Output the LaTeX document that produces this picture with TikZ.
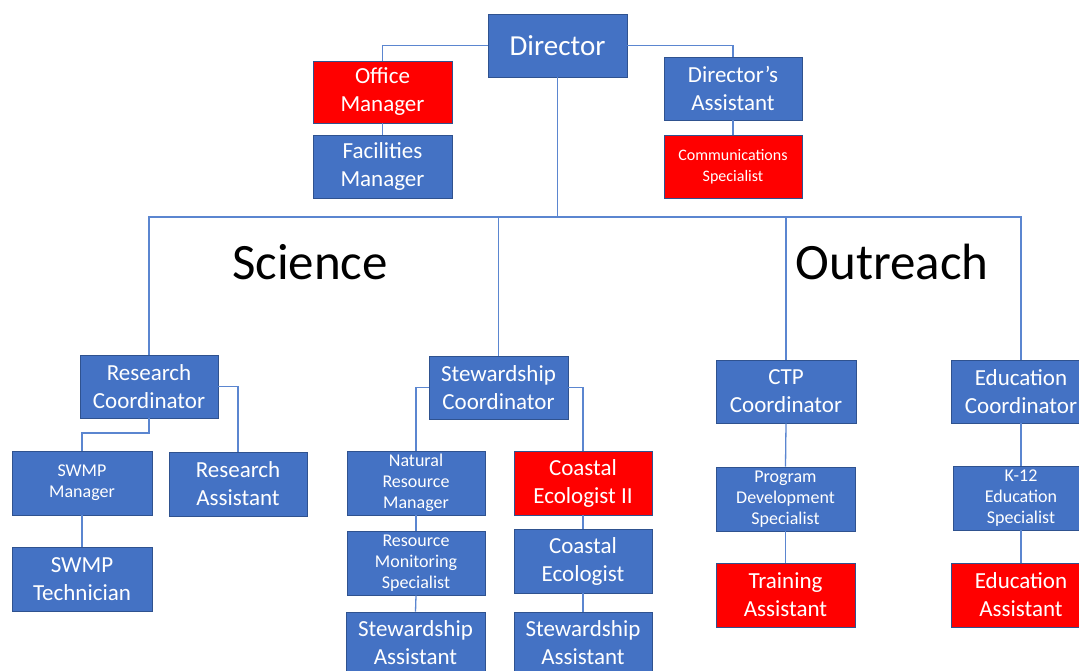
\documentclass[tikz,border=0pt]{standalone}
\usepackage{fontspec}
\setmainfont{Carlito}
\definecolor{bfill}{HTML}{4472C4}
\definecolor{bdraw}{HTML}{2F528F}
\definecolor{rfill}{HTML}{FF0000}
\definecolor{lcol}{HTML}{5B86D0}
\tikzset{
  bx/.style n args={2}{minimum width=#1, minimum height=#2, inner sep=0pt, align=center, text=white, draw=bdraw, line width=0.9pt},
  bl/.style={fill=bfill},
  rd/.style={fill=rfill},
  fbig/.style={font=\fontsize{29}{32}\selectfont},
  fmed/.style={font=\fontsize{23}{28}\selectfont},
  fsm/.style={font=\fontsize{18}{21}\selectfont},
  fxs/.style={font=\fontsize{16}{21}\selectfont},
  conn/.style={draw=lcol, line width=1.3pt},
  head/.style={font=\fontsize{51}{55}\selectfont, text=black, inner sep=0pt}
}
\begin{document}
\begin{tikzpicture}[x=1pt,y=-1pt]
\clip (0,0) rectangle (1079,671);
\fill[white] (0,0) rectangle (1079,671);
% top
\node[bx={139}{63}, bl, fbig] (dir) at (557.5,45.5) {Director};
\node[bx={139}{62}, rd, fmed] (om) at (382.5,92) {Office\\Manager};
\node[bx={139}{63}, bl, fmed] (fm) at (382.5,166.5) {Facilities\\Manager};
\node[bx={138}{63}, bl, fmed] (da) at (733,88.5) {Director’s\\Assistant};
\node[bx={138}{63}, rd, fxs] (cs) at (733,166.5) {Communications\\Specialist};
% headings
\node[head] (sci) at (310,262) {Science};
\node[head] (out) at (892,262) {Outreach};
% science
\node[bx={138}{63}, bl, fmed] (rc) at (149,386.5) {Research\\Coordinator};
\node[bx={140}{64}, bl, fsm] (swm) at (82,483) {SWMP\\Manager};
\node[bx={138}{64}, bl, fmed] (ra) at (238,484) {Research\\Assistant};
\node[bx={140}{64}, bl, fmed] (swt) at (82,579) {SWMP\\Technician};
\node[bx={139}{63}, bl, fmed] (sc) at (498.5,387.5) {Stewardship\\Coordinator};
\node[bx={138}{64}, bl, fsm] (nrm) at (416,483) {Natural\\Resource\\Manager};
\node[bx={138}{64}, bl, fsm] (rms) at (416,563) {Resource\\Monitoring\\Specialist};
\node[bx={139}{62}, bl, fmed] (sa1) at (415.5,643) {Stewardship\\Assistant};
\node[bx={138}{64}, rd, fmed] (ce2) at (583,483) {Coastal\\Ecologist II};
\node[bx={138}{64}, bl, fmed] (ce) at (583,561) {Coastal\\Ecologist};
\node[bx={138}{62}, bl, fmed] (sa2) at (583,643) {Stewardship\\Assistant};
% outreach
\node[bx={140}{63}, bl, fmed] (ctp) at (786,391.5) {CTP\\Coordinator};
\node[bx={139}{64}, bl, fsm] (pds) at (785.5,499) {Program\\Development\\Specialist};
\node[bx={139}{64}, rd, fmed] (ta) at (785.5,595) {Training\\Assistant};
\node[bx={140}{63}, bl, fmed] (ec) at (1021,391.5) {Education\\Coordinator};
\node[bx={136}{64}, bl, fsm] (k12) at (1021,498) {K-12\\Education\\Specialist};
\node[bx={140}{64}, rd, fmed] (ea) at (1021,595) {Education\\Assistant};
% connectors
\coordinate (bar) at (557.5,217);
\path[conn] (dir.west) -| (om.north);
\path[conn] (om.south) -- (fm.north);
\path[conn] (dir.east) -| (da.north);
\path[conn] (da.south) -- (cs.north);
\path[conn] (dir.south) -- (bar);
\path[conn] (rc.north) |- (bar) -| (ec.north);
\path[conn] (sc.north) -- (sc.north |- bar);
\path[conn] (ctp.north) -- (ctp.north |- bar);
\path[conn] (rc.south) -- (rc.south |- 0,433) -| (swm.north);
\path[conn] (rc.east) -| (ra.north);
\path[conn] (swm.south) -- (swt.north);
\path[conn] (sc.west) -| (nrm.north);
\path[conn] (sc.east) -| (ce2.north);
\path[conn] (nrm.south) -- (rms.north);
\path[conn] (rms.south) -- (sa1.north);
\path[conn] (ce2.south) -- (ce.north);
\path[conn] (ce.south) -- (sa2.north);
\path[conn] (ctp.south) -- (pds.north);
\path[conn] (pds.south) -- (ta.north);
\path[conn] (ec.south) -- (k12.north);
\path[conn] (k12.south) -- (ea.north);
\end{tikzpicture}
\end{document}
